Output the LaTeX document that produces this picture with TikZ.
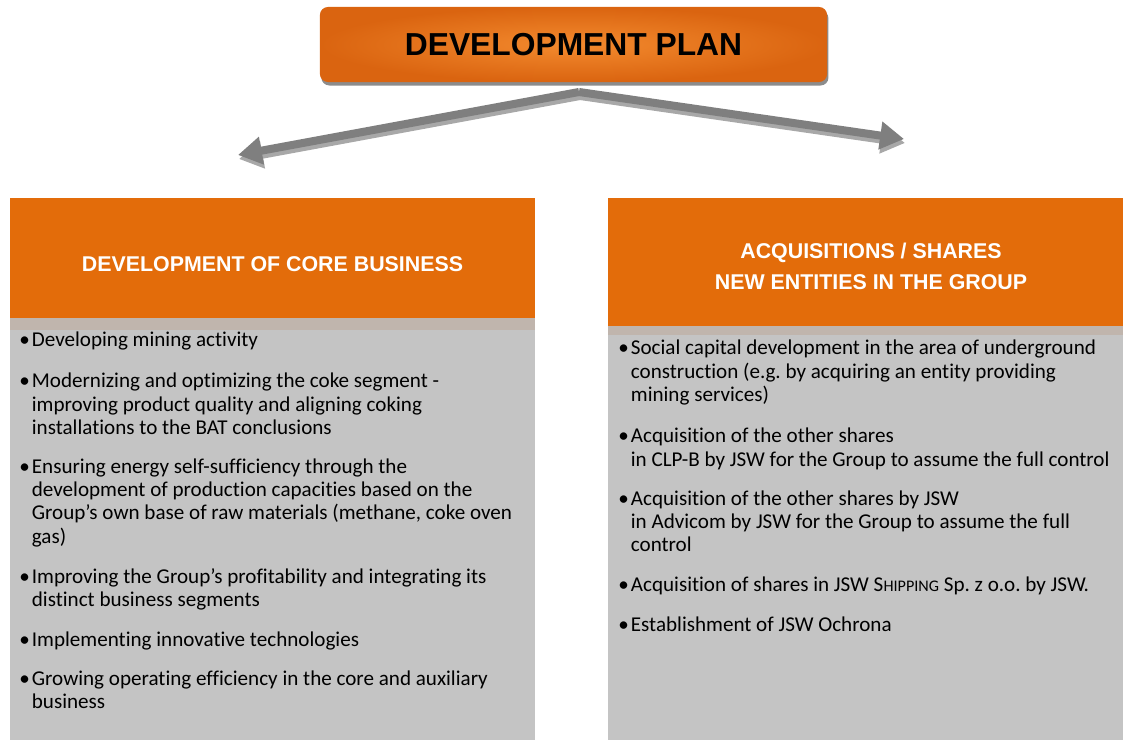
\documentclass[tikz,border=0pt]{standalone}
\usepackage{fontspec}
\setmainfont[Ligatures=NoCommon]{Carlito}
\newfontfamily\headfont{Liberation Sans}
\usetikzlibrary{arrows.meta,shadows}
\frenchspacing

\definecolor{planorange}{HTML}{E36C0A}
\definecolor{planlight}{HTML}{F38A2E}
\definecolor{plandark}{HTML}{DA6410}
\definecolor{stripgray}{HTML}{C0B5AD}
\definecolor{panelgray}{HTML}{C4C4C4}
\definecolor{arrowgray}{HTML}{7F7F7F}
\definecolor{arrowshade}{HTML}{A8A8A8}

\newcommand{\bodyfont}{\fontsize{15}{16.7}\selectfont}
\newcommand{\bitem}[1]{\textbullet\hspace{1.5pt}\begin{tabular}[t]{@{}l@{}}#1\end{tabular}}

\tikzset{
  bulletitem/.style={anchor=base west, inner sep=0pt, font=\bodyfont},
  headbox/.style={fill=planorange, text=white, align=center,
    font=\headfont\bfseries\fontsize{15.2}{22}\selectfont},
  planbox/.style={rounded corners=5.7pt, shade, inner color=planlight, outer color=plandark,
    drop shadow={shadow xshift=1pt, shadow yshift=-2.5pt, fill=black!45, opacity=1},
    font=\headfont\bfseries\fontsize{22.6}{26}\selectfont},
  planarrow/.style={draw=arrowgray, line width=5.7pt, -{Triangle[width=19pt,length=17pt]}},
}

\begin{document}
\begin{tikzpicture}[x=0.025cm,y=-0.025cm]
  \useasboundingbox (0,0) rectangle (1123,740);
  \clip (0,0) rectangle (1123,740);

  % panels
  \fill[panelgray] (10,318) rectangle (535,740);
  \fill[panelgray] (608,326) rectangle (1123,740);

  \node[headbox, minimum width=13.125cm, minimum height=3.3cm] (core) at (272.5,264)
    {DEVELOPMENT OF CORE BUSINESS};
  \node[headbox, minimum width=13.15cm, minimum height=3.425cm] (shares) at (871,266.5)
    {ACQUISITIONS / SHARES\\NEW ENTITIES IN THE GROUP};
  \fill[stripgray] (10,318) rectangle (535,330);
  \fill[stripgray] (608,326) rectangle (1123,335);

  % title
  \node[planbox, minimum width=12.675cm, minimum height=1.875cm] (plan) at (573.5,44.5)
    {DEVELOPMENT PLAN};

  % arrows
  \coordinate (apex) at (579,92);
  \coordinate (coretip) at (238,155);
  \coordinate (sharetip) at (904,139);
  \draw[planarrow, draw=arrowshade, transform canvas={shift={(1,4)}}] (apex) -- (coretip);
  \draw[planarrow, draw=arrowshade, transform canvas={shift={(1,4)}}] (apex) -- (sharetip);
  \draw[planarrow] (apex) -- (coretip);
  \draw[planarrow] (apex) -- (sharetip);

  % left list
  \node[bulletitem] (core1) at (19,347) {\bitem{Developing mining activity}};
  \node[bulletitem] (core2) at (19,388) {\bitem{Modernizing and optimizing the coke segment -\\
    improving product quality and aligning coking\\installations to the BAT conclusions}};
  \node[bulletitem] (core3) at (19,473) {\bitem{Ensuring energy self-sufficiency through the\\
    development of production capacities based on the\\
    Group’s own base of raw materials (methane, coke oven\\gas)}};
  \node[bulletitem] (core4) at (19,583) {\bitem{Improving the Group’s profitability and integrating its\\
    distinct business segments}};
  \node[bulletitem] (core5) at (19,646) {\bitem{Implementing innovative technologies}};
  \node[bulletitem] (core6) at (19,685) {\bitem{Growing operating efficiency in the core and auxiliary\\business}};

  % right list
  \node[bulletitem] (share1) at (618,355) {\bitem{Social capital development in the area of underground\\
    construction (e.g. by acquiring an entity providing\\mining services)}};
  \node[bulletitem] (share2) at (618,443) {\bitem{Acquisition of the other shares\\
    in CLP-B by JSW for the Group to assume the full control}};
  \node[bulletitem] (share3) at (618,505) {\bitem{Acquisition of the other shares by JSW\\
    in Advicom by JSW for the Group to assume the full\\control}};
  \node[bulletitem] (share4) at (618,591) {\bitem{Acquisition of shares in JSW S{\fontsize{11.5}{16.7}\selectfont HIPPING} Sp. z o.o. by JSW.}};
  \node[bulletitem] (share5) at (618,631) {\bitem{Establishment of JSW Ochrona}};
\end{tikzpicture}
\end{document}
